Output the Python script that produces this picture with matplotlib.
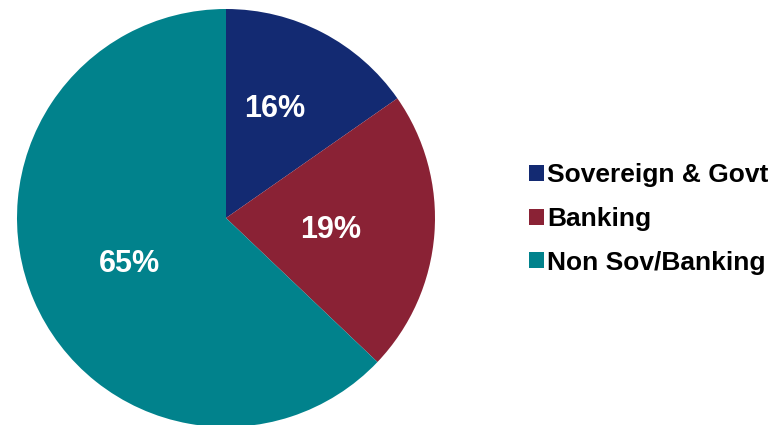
import numpy as np
import matplotlib
matplotlib.use("Agg")
import matplotlib.pyplot as plt

plt.rcParams['font.family'] = ['Liberation Sans', 'DejaVu Sans']

categories = ['Sovereign & Govt', 'Banking', 'Non Sov/Banking']
shares = [15.3, 21.8, 62.9]
pct_labels = ['16%', '19%', '65%']
colors = ['#132A72', '#8A2235', '#01828C']

# label baseline positions, in pie-radius units
label_xy = [(0.232, 0.483), (0.500, -0.096), (-0.464, -0.258)]

fig = plt.figure(figsize=(7.75, 4.25), dpi=100)
ax = fig.add_axes([17 / 775, -2 / 425, 418 / 775, 418 / 425])

wedges, _ = ax.pie(shares, colors=colors, startangle=90, counterclock=False,
                   radius=1.0, wedgeprops=dict(linewidth=0))
ax.set_xlim(-1, 1)
ax.set_ylim(-1, 1)
ax.set_aspect('equal')
ax.axis('off')

for lab, (x, y) in zip(pct_labels, label_xy):
    ax.text(x, y, lab, ha='center', va='baseline',
            color='white', fontsize=22, fontweight='bold')

leg = fig.legend(wedges, categories, loc='center left',
                 bbox_to_anchor=(529 / 775, 1 - 219 / 425),
                 frameon=False, fontsize=19, handlelength=0.55, handleheight=0.55,
                 handletextpad=0.15, labelspacing=0.74, borderaxespad=0,
                 borderpad=0)
for t in leg.get_texts():
    t.set_fontweight('bold')

fig.savefig('out.png', dpi=100, facecolor='w')
